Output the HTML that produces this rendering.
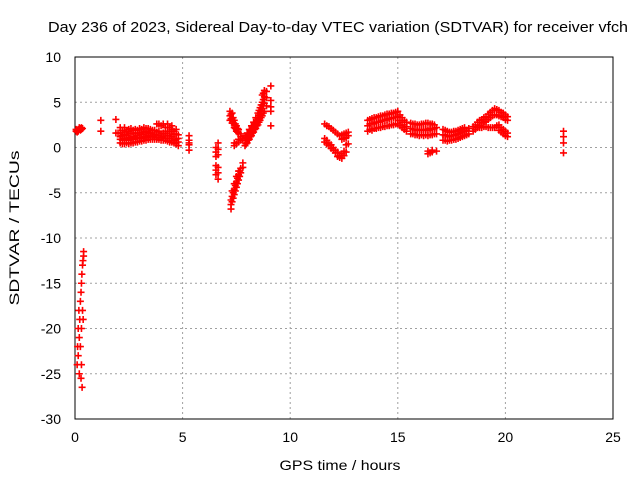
<!DOCTYPE html>
<html><head><meta charset="utf-8"><style>
body{margin:0;background:#fff}
svg{display:block;font-family:"Liberation Sans",sans-serif}
</style></head><body>
<svg id="chart" width="640" height="480" viewBox="0 0 640 480">
<text x="338" y="32" font-size="15" text-anchor="middle" textLength="580" lengthAdjust="spacingAndGlyphs">Day 236 of 2023, Sidereal Day-to-day VTEC variation (SDTVAR) for receiver vfch</text>
<g id="grid"></g>
<g id="ticks"></g>
<rect x="75" y="57" width="538" height="362" fill="none" stroke="#000" stroke-width="1"/>
<g id="marks"></g>
<text x="340" y="470" font-size="14" text-anchor="middle" textLength="121" lengthAdjust="spacingAndGlyphs">GPS time / hours</text>
<text x="0" y="0" font-size="14" text-anchor="middle" textLength="155" lengthAdjust="spacingAndGlyphs" transform="translate(19,228) rotate(-90)">SDTVAR / TECUs</text>
</svg>
<script>
const xTicks=[0,5,10,15,20,25];
const yTicks=[10,5,0,-5,-10,-15,-20,-25,-30];
// each entry: [time (h), value, value, ...]
const ptsA=[[0.05,1.8,2.0],[0.1,1.9,1.7],[0.15,2.0,1.8],[0.2,2.0,2.2],[0.25,2.1,1.9],[0.3,2.0,2.2],[0.35,2.1]];
const ptsB=[[0.1,-24],[0.12,-22],[0.15,-20,-23],[0.18,-18],[0.2,-21,-25],[0.22,-19],[0.25,-17,-22],[0.28,-16,-25.5],[0.3,-15,-20,-24],[0.32,-14],[0.33,-26.5],[0.35,-13,-18],[0.37,-12.5],[0.38,-19],[0.4,-12,-11.5]];
const ptsC=[[1.2,3.0,1.8],[1.9,3.1,1.6],[2.0,1.6]];
const ptsD=[[2.1,0.5,0.9,1.2,1.6,2.2],[2.2,0.4,0.8,1.3,1.9],[2.3,0.4,1.0,1.4,1.7,2.2],[2.4,0.5,0.9,1.3,1.8],[2.5,0.4,0.8,1.1,1.5,1.8,2.0],[2.6,0.5,1.0,1.6,2.1],[2.7,0.5,0.9,1.2,1.6,1.9],[2.8,0.6,1.0,1.5,2.0],[2.9,0.6,1.0,1.3,1.6,1.9],[3.0,0.7,1.1,1.6,2.1],[3.1,0.7,1.0,1.4,1.7,2.0],[3.2,0.8,1.2,1.7,2.2],[3.3,0.8,1.1,1.5,1.8,2.1],[3.4,0.9,1.3,1.7,2.1],[3.5,0.9,1.2,1.6,2.0],[3.6,0.9,1.2,1.5,1.9],[3.7,0.9,1.1,1.4,1.9],[3.8,0.9,1.3,1.7,2.6],[3.9,0.9,1.3,1.8,2.6],[4.0,0.8,1.1,1.5,2.4],[4.1,0.8,1.2,1.6,2.6],[4.2,0.8,1.0,1.5,2.2],[4.3,0.7,1.3,1.8,2.6],[4.4,0.6,1.0,1.6,2.2],[4.5,0.6,1.2,2.0,2.4],[4.6,0.5,0.8,1.4,1.8],[4.7,0.4,0.9,1.5,2.0],[4.8,0.2,0.6,1.0,1.4]];
const ptsE=[[5.3,0.3,0.5,0.8,1.3,-0.3],[6.55,0.0,-0.5,-1.0,-2.0,-2.5,-3.0],[6.65,0.5,-0.2,-0.8,-2.2,-2.8,-3.5]];
const ptsF=[[7.25,-6.8,-6.3,-5.8],[7.3,-6.0,-5.4,-4.8],[7.35,-5.6,-5.0],[7.4,-5.2,-4.6,-4.0],[7.45,-4.8,-4.2],[7.5,-4.4,-3.8,-3.2],[7.55,-4.0,-3.4],[7.6,-3.6,-3.0,-2.6],[7.65,-3.2,-2.6],[7.7,-2.8,-2.3],[7.8,-2.2,-1.7]];
const ptsG=[[7.2,4.0,3.5,3.0],[7.25,3.7,3.2],[7.3,3.8,3.2,2.7],[7.35,3.3,2.7],[7.4,3.0,2.5,2.2,0.2,0.5],[7.45,2.6,2.1],[7.5,2.4,2.0,1.8,0.4],[7.55,2.1,1.7],[7.6,2.0,1.6,0.6,0.9],[7.7,1.5,1.2,0.8],[7.8,1.0,0.8]];
const ptsH=[[7.9,0.2,0.8,1.3],[7.95,0.4,1.0],[8.0,0.5,1.1,1.6],[8.05,0.8,1.4],[8.1,0.9,1.5,2.0],[8.15,1.2,1.8],[8.2,1.3,1.9,2.4],[8.25,1.6,2.2],[8.3,1.7,2.3,2.8],[8.35,2.0,2.6],[8.4,2.1,2.7,3.3],[8.45,2.4,3.0],[8.5,2.5,3.2,3.8],[8.55,2.8,3.5,4.1],[8.6,3.0,3.7,4.4],[8.65,3.3,4.0,4.7],[8.7,3.5,4.3,5.0,5.8],[8.75,3.8,4.6,5.3,6.0],[8.8,4.0,4.9,5.6,6.3],[8.9,4.6,5.5,6.2],[9.1,4.0,4.5,5.2,6.8,2.4]];
const ptsI=[[11.6,2.6,1.0,0.6],[11.7,2.4,0.8,0.4],[11.8,2.3,0.5,0.2],[11.9,2.1,0.3,-0.1],[12.0,1.9,0.0,-0.3],[12.1,1.7,-0.3,-0.6],[12.2,1.5,-0.5,-1.0],[12.3,1.3,-0.9,-1.1],[12.4,1.4,0.9,-1.2,-0.7],[12.5,1.5,1.0,-0.9,-0.4],[12.6,1.6,1.1,-0.5,0.3],[12.7,1.7,1.3,0.4]];
const ptsJ=[[13.6,1.8,2.4,3.0],[13.7,2.0,2.6,3.1],[13.8,1.9,2.6,3.2],[13.9,2.1,2.7,3.3],[14.0,2.1,2.8,3.3],[14.1,2.2,2.8,3.4],[14.2,2.2,2.9,3.5],[14.3,2.3,3.0,3.5],[14.4,2.3,3.0,3.6],[14.5,2.4,3.1,3.7],[14.6,2.4,3.2,3.7],[14.7,2.5,3.2,3.8],[14.8,2.5,3.3,3.8],[14.9,2.6,3.3,3.9],[15.0,2.6,3.4,4.0],[15.1,2.4,3.0,3.6],[15.2,2.2,2.8,3.3],[15.3,2.0,2.5,3.0],[15.4,1.8,2.3,2.8]];
const ptsK=[[15.6,1.5,2.1,2.7],[15.7,1.5,2.0,2.6],[15.8,1.4,2.0,2.6],[15.9,1.4,1.9,2.5],[16.0,1.3,1.9,2.5],[16.1,1.4,2.0,2.6],[16.2,1.3,1.9,2.6],[16.3,1.4,2.0,2.7],[16.4,1.3,1.9,2.7,-0.7,-0.4],[16.5,1.4,2.1,2.6,-0.6],[16.6,1.4,2.0,2.6,-0.5,-0.3],[16.7,1.5,2.1,2.5],[16.8,1.5,2.2,-0.4]];
const ptsL=[[17.1,0.8,1.4,2.0],[17.2,0.8,1.3,1.9],[17.3,0.7,1.3,1.8],[17.4,0.8,1.2,1.7],[17.5,0.8,1.3,1.7],[17.6,0.9,1.3,1.8],[17.7,0.9,1.4,1.8],[17.8,1.0,1.5,1.9],[17.9,1.1,1.6,2.0],[18.0,1.2,1.7,2.1],[18.1,1.3,1.8,2.2],[18.2,1.4,1.9],[18.3,1.5,2.1]];
const ptsM=[[18.5,1.8,2.3],[18.6,2.0,2.5],[18.7,2.2,2.8],[18.8,2.4,3.0,2.2],[18.9,2.6,3.1,2.2],[19.0,2.8,3.3,2.3],[19.1,2.9,3.4,2.3],[19.2,3.1,3.7,2.2],[19.3,3.3,3.9,2.2],[19.4,3.5,4.1,2.2],[19.5,3.6,4.3,2.2],[19.6,3.6,4.2,2.4],[19.7,3.5,4.1,2.5,1.9],[19.8,3.4,3.9,2.2,1.7],[19.9,3.3,3.8,2.0,1.5],[20.0,3.1,3.6,1.8,1.3],[20.1,3.0,3.4,1.6,1.2]];
const ptsN=[[22.7,1.8,1.2,0.5,-0.6]];
const series=[ptsA,ptsB,ptsC,ptsD,ptsE,ptsF,ptsG,ptsH,ptsI,ptsJ,ptsK,ptsL,ptsM,ptsN];

const X0=75,X1=613,Y0=419,Y1=57;
const sx=t=>X0+(t-0)/(25-0)*(X1-X0);
const sy=v=>Y0-(v-(-30))/(10-(-30))*(Y0-Y1);
const NS="http://www.w3.org/2000/svg";
const grid=document.getElementById('grid'),ticks=document.getElementById('ticks'),marks=document.getElementById('marks');
function mk(tag,attrs,parent){const e=document.createElementNS(NS,tag);for(const k in attrs)e.setAttribute(k,attrs[k]);parent.appendChild(e);return e;}
xTicks.forEach(t=>{
  const x=sx(t);
  if(t>0&&t<25){const l=mk('line',{x1:x,y1:Y0,x2:x,y2:Y1,stroke:'#a0a0a0','stroke-dasharray':'2,3'},grid);
  
  }
  const tx=mk('text',{x:x,y:442,'font-size':14,'text-anchor':'middle'},ticks);
  tx.textContent=t;
  
  
});
yTicks.forEach(v=>{
  const y=sy(v);
  if(v>-30&&v<10){const l=mk('line',{x1:X0,y1:y,x2:X1,y2:y,stroke:'#a0a0a0','stroke-dasharray':'2,3'},grid);
  
  }
  const tx=mk('text',{x:61,y:y+5,'font-size':14,'text-anchor':'end'},ticks);
  tx.textContent=v;
  
  
});
series.forEach(s=>s.forEach(row=>{
  const x=sx(row[0]);
  for(let i=1;i<row.length;i++){
    const y=sy(row[i]);
    const p=mk('path',{d:`M${x-3.5},${y}h7M${x},${y-3.5}v7`,stroke:'#ff0000','stroke-width':1.6,fill:'none'},marks);
    
    
  }
}));
</script>
</body></html>
